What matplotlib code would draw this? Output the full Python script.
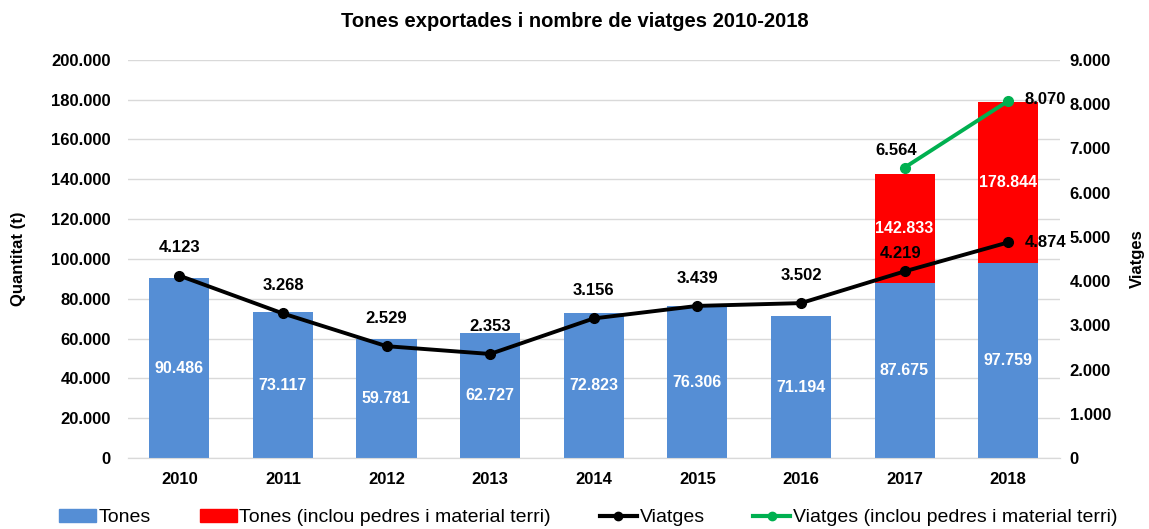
import matplotlib
matplotlib.use("Agg")
import matplotlib.pyplot as plt
import numpy as np
from matplotlib.lines import Line2D
from matplotlib.patches import Patch

# Data
years = ["2010", "2011", "2012", "2013", "2014", "2015", "2016", "2017", "2018"]
tones = [90486, 73117, 59781, 62727, 72823, 76306, 71194, 87675, 97759]
tones_total = [None, None, None, None, None, None, None, 142833, 178844]
viatges = [4123, 3268, 2529, 2353, 3156, 3439, 3502, 4219, 4874]
viatges_total = [None, None, None, None, None, None, None, 6564, 8070]


def fmt(v):
    return f"{v:,}".replace(",", ".")


plt.rcParams['font.family'] = ['Liberation Sans', 'DejaVu Sans']

fig = plt.figure(figsize=(11.49, 5.29), dpi=100)
ax = fig.add_axes([0.111, 0.134, 0.8115, 0.753])
ax2 = ax.twinx()

x = np.arange(len(years))
blue = '#558ED5'
red = '#FF0000'
green = '#00B050'
w = 0.58
fs = 12

# red bars (total) behind blue bars
for i, t in enumerate(tones_total):
    if t is not None:
        ax.bar(x[i], t, width=w, color=red, zorder=2)
        ax.text(x[i], (t + tones[i]) / 2, fmt(t), ha='center', va='center',
                color='white', fontsize=11.5, fontweight='bold', zorder=4)
ax.bar(x, tones, width=w, color=blue, zorder=3)
for i, t in enumerate(tones):
    ax.text(x[i], t / 2, fmt(t), ha='center', va='center', color='white',
            fontsize=11.5, fontweight='bold', zorder=4)

ax.set_ylim(0, 200000)
ax.set_xlim(-0.5, len(years) - 0.5)
ax.set_yticks(np.arange(0, 200001, 20000))
ax.set_yticklabels([fmt(v) for v in range(0, 200001, 20000)])
ax.set_xticks(x)
ax.set_xticklabels(years)
ax.grid(axis='y', color='#D9D9D9', linewidth=1, zorder=0)
ax.set_axisbelow(True)

# lines
ax2.plot(x, viatges, color='black', linewidth=2.8, marker='o', markersize=7, zorder=5)
gx = [x[i] for i, v in enumerate(viatges_total) if v is not None]
gy = [v for v in viatges_total if v is not None]
ax2.plot(gx, gy, color=green, linewidth=2.8, marker='o', markersize=7, zorder=5)
ax2.set_ylim(0, 9000)
ax2.set_yticks(np.arange(0, 9001, 1000))
ax2.set_yticklabels([fmt(v) for v in range(0, 9001, 1000)])

# line labels
for i, v in enumerate(viatges):
    if i == 8:
        ax2.annotate(fmt(v), (x[i], v), xytext=(12, 0), textcoords='offset points',
                     ha='left', va='center', fontsize=fs, fontweight='bold', zorder=6)
    elif i == 7:
        ax2.annotate(fmt(v), (x[i], v), xytext=(-3, 13), textcoords='offset points',
                     ha='center', va='center', fontsize=fs, fontweight='bold', zorder=6)
    else:
        ax2.annotate(fmt(v), (x[i], v), xytext=(0, 20), textcoords='offset points',
                     ha='center', va='center', fontsize=fs, fontweight='bold', zorder=6)
ax2.annotate(fmt(gy[0]), (gx[0], gy[0]), xytext=(-6, 12), textcoords='offset points',
             ha='center', va='center', fontsize=fs, fontweight='bold', zorder=6)
ax2.annotate(fmt(gy[1]), (gx[1], gy[1]), xytext=(12, 1), textcoords='offset points',
             ha='left', va='center', fontsize=fs, fontweight='bold', zorder=6)

for a in (ax, ax2):
    for s in ('top', 'left', 'right'):
        a.spines[s].set_visible(False)
    a.spines['bottom'].set_color('#D9D9D9')
    a.tick_params(axis='both', length=0, labelsize=fs)
    for lbl in a.get_yticklabels() + a.get_xticklabels():
        lbl.set_fontweight('bold')
ax.tick_params(axis='y', pad=12)
ax.tick_params(axis='x', pad=10)
ax2.tick_params(axis='y', pad=7)

ax.set_ylabel("Quantitat (t)", fontsize=fs, fontweight='bold', labelpad=18)
ax2.set_ylabel("Viatges", fontsize=fs, fontweight='bold', labelpad=14)
fig.suptitle("Tones exportades i nombre de viatges 2010-2018", fontsize=14.5,
             fontweight='bold', y=0.978)

handles = [Patch(color=blue), Patch(color=red),
           Line2D([], [], color='black', linewidth=3, marker='o', markersize=6),
           Line2D([], [], color=green, linewidth=3, marker='o', markersize=6)]
labels = ["Tones", "Tones (inclou pedres i material terri)", "Viatges",
          "Viatges (inclou pedres i material terri)"]
fig.legend(handles, labels, loc='lower center', bbox_to_anchor=(0.512, -0.028), ncol=4,
           frameon=False, prop={'size': 14},
           handlelength=1.9, handletextpad=0.15, columnspacing=2.5)

fig.savefig("out.png", dpi=100)
